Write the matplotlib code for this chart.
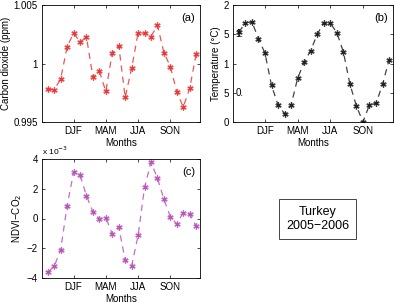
import matplotlib
matplotlib.use("Agg")
import matplotlib.pyplot as plt
import numpy as np

months = np.arange(1, 25)
tick_pos = [5, 10, 15, 20]
tick_labels = ["DJF", "MAM", "JJA", "SON"]

co2 = [0.99781, 0.99776, 0.99869, 1.00145, 1.00259, 1.00185, 1.00224, 0.99881,
       0.99932, 0.99761, 1.00094, 1.00153, 0.99710, 0.99960, 1.00261, 1.00259,
       1.00230, 1.00327, 1.00094, 0.99974, 0.99759, 0.99628, 0.99787, 1.00080]
temp = [1.534, 1.699, 1.710, 1.426, 1.176, 0.625, 0.290, 0.142, 0.290, 0.750,
        1.023, 1.222, 1.500, 1.699, 1.688, 1.528, 1.199, 0.648, 0.273, 0.0,
        0.295, 0.318, 0.642, 1.063]
ndvi = [-3.617, -3.211, -2.085, 0.868, 3.099, 2.918, 1.521, 0.439, -0.011, 0.056,
        -1.048, -0.575, -2.806, -3.189, -1.138, 2.085, 3.775, 2.715, 1.296, 0.124,
        -0.372, 0.394, 0.282, -0.507]
ndvi_scaled = [v * 1e-3 for v in ndvi]

W, H = 394, 305
fig = plt.figure(figsize=(W / 100, H / 100), dpi=100)
FS = 7
plt.rcParams['font.family'] = ['Liberation Sans', 'DejaVu Sans']

def add_ax(x0, y0, x1, y1):
    return fig.add_axes([x0 / W, 1 - y1 / H, (x1 - x0) / W, (y1 - y0) / H])

def style(ax, color, y, xlim=(0.1, 24.6)):
    ax.plot(months, y, color=color, linestyle=(0, (5, 4)), linewidth=0.9,
            marker=(6, 2, 0), markersize=4.5, markeredgewidth=0.9, alpha=0.85)
    ax.plot(months, y, color=color, linestyle='none', marker='s', markersize=1.8)
    ax.set_xlim(*xlim)
    ax.set_xticks(tick_pos)
    ax.set_xticklabels(tick_labels, fontsize=FS)
    ax.set_xlabel("Months", fontsize=FS, labelpad=1)
    ax.tick_params(direction='in', length=2, width=0.5, top=True, right=True,
                   labelsize=FS, pad=3)
    for s in ax.spines.values():
        s.set_linewidth(0.6)

# (a)
axa = add_ax(42, 5, 200, 122)
style(axa, '#e83a3a', co2)
axa.set_ylim(0.995, 1.005)
axa.set_yticks([0.995, 1.0, 1.005])
axa.set_yticklabels(["0.995", "1", "1.005"])
axa.set_ylabel("Carbon dioxide (ppm)", fontsize=FS, labelpad=2)
axa.text(0.97, 0.93, "(a)", transform=axa.transAxes, ha='right', va='top', fontsize=8)

# (b)
axb = add_ax(233, 5, 393, 122)
style(axb, '#222222', temp)
axb.set_ylim(0, 2)
axb.set_yticks([0, 0.5, 1, 1.5, 2])
axb.set_yticklabels(["0", "5", "1", "5", "2"])
axb.text(0.5, 1.5, "1.", fontsize=FS, ha='left', va='center')
axb.text(0.5, 0.5, "0.", fontsize=FS, ha='left', va='center')
axb.set_ylabel("Temperature (°C)", fontsize=FS, labelpad=2)
axb.text(0.97, 0.93, "(b)", transform=axb.transAxes, ha='right', va='top', fontsize=8)

# (c)
axc = add_ax(42, 159, 200, 278)
style(axc, '#b956b9', ndvi_scaled)
axc.set_ylim(-4e-3, 4e-3)
axc.set_yticks([-4e-3, -2e-3, 0, 2e-3, 4e-3])
axc.set_yticklabels(["\u22124", "\u22122", "0", "2", "4"])
axc.set_ylabel("NDVI\u2212CO$_2$", fontsize=FS, labelpad=2)
axc.text(0.0, 1.02, "x 10$^{-3}$", transform=axc.transAxes, ha='left', va='bottom', fontsize=6)
axc.text(0.97, 0.93, "(c)", transform=axc.transAxes, ha='right', va='top', fontsize=8)

# text box
fig.text(317.5 / W, 1 - 219 / H, "Turkey\n2005\u22122006", ha='center', va='center',
         fontsize=9, linespacing=1.15,
         bbox=dict(boxstyle='square,pad=0.55', facecolor='white', edgecolor='#444444', linewidth=0.7))

fig.savefig("out.png", dpi=100)
